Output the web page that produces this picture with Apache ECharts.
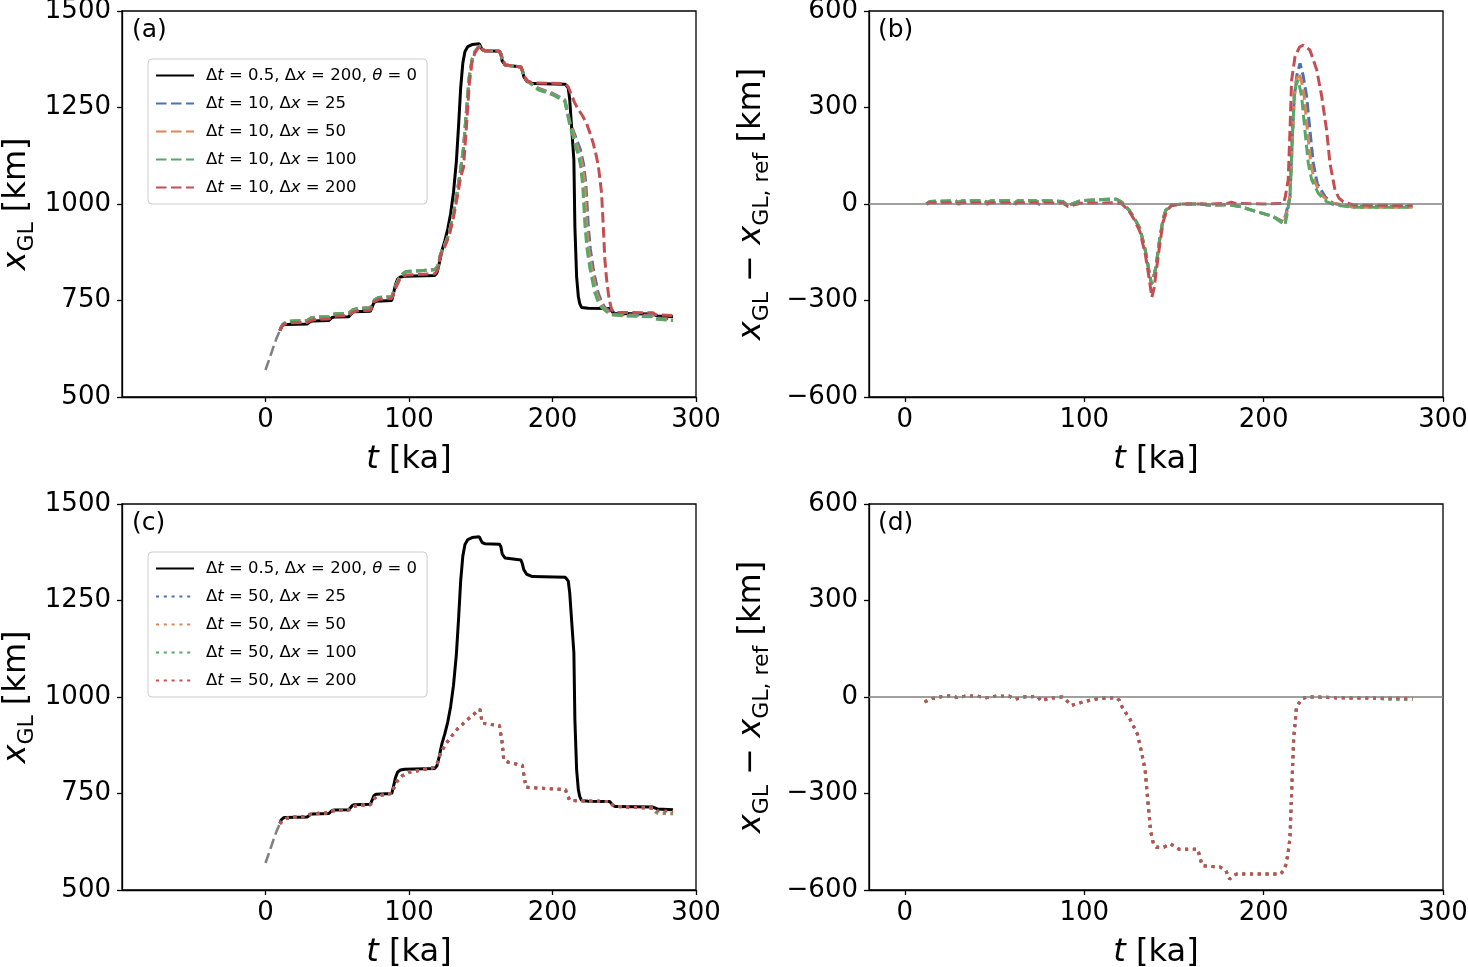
<!DOCTYPE html>
<html>
<head>
<meta charset="utf-8">
<script src="https://cdn.jsdelivr.net/npm/echarts@6.0.0/dist/echarts.min.js"></script>
<style>
html, body { margin: 0; padding: 0; background: #fff; }
#main { width: 1468px; height: 967px; }
</style>
</head>
<body>
<div id="main"></div>
<script>
// ---- data ----
// spin-up (grey dashed), panels (a) and (c)
var tSpin = [0, 3, 6, 8, 10];
var xSpin = [570, 602, 635, 655, 672];

// reference run dt=0.5, dx=200, theta=0
var tRef = [10, 11, 12.5, 14, 29, 30, 31.5, 33, 44, 45, 46.5, 48, 58, 59, 60.5, 62, 73, 74, 75.5, 77, 88, 89, 90.5, 92, 94, 97, 118, 119.5, 121, 123, 125, 127, 129, 131, 133, 134.5, 136, 137.5, 139, 141, 144, 149, 150, 151, 153, 163, 164, 165, 167, 178, 179, 180, 182, 186, 209, 211, 212, 213.3, 214.9, 215.6, 216.8, 218, 219, 220.2, 225, 240, 241, 242, 244, 270, 271, 273, 284];
var xRef = [672, 682, 687, 688, 689, 692, 696, 697, 698, 702, 706, 707, 708, 713, 719, 721, 722, 730, 744, 748, 750, 765, 790, 805, 811, 813, 815, 822, 845, 880, 905, 935, 975, 1030, 1110, 1200, 1300, 1365, 1395, 1408, 1413, 1415, 1412, 1400, 1397, 1396, 1390, 1370, 1360, 1355, 1345, 1330, 1318, 1312, 1310, 1300, 1270, 1200, 1114, 941, 812, 760, 742, 732, 730, 729, 726, 719, 716, 715, 712, 710, 708];

// dt=10 runs, panel (a)
var tDt10Early = [10, 12, 15, 29, 32, 35, 44, 47, 50, 58, 61, 64, 73, 76, 79, 88, 91, 94, 98, 110, 118, 120];
var xDt10Early = [672, 688, 696, 698, 705, 707, 708, 714, 716, 717, 726, 729, 731, 752, 758, 760, 790, 815, 825, 828, 830, 838];
var xDt10EarlyRed = [672, 686, 692, 693, 699, 701, 702, 708, 710, 711, 720, 723, 725, 748, 753, 755, 785, 808, 816, 818, 819, 830];
var tDt10Rise = [122, 125, 128, 131, 134, 136, 138, 140, 142, 144, 146, 148, 150, 151, 153, 163, 165, 167, 178, 180, 182];
var xDt10Rise = [870, 895, 925, 975, 1040, 1090, 1145, 1240, 1330, 1375, 1395, 1405, 1410, 1400, 1397, 1396, 1378, 1360, 1355, 1335, 1320];
var xDt10RiseRed = [868, 890, 918, 965, 1025, 1070, 1095, 1200, 1310, 1370, 1392, 1403, 1410, 1400, 1397, 1396, 1378, 1360, 1355, 1335, 1320];
var tA25Tail = [190, 200, 208.6, 212, 214, 216, 218, 219.5, 221.8, 223.3, 224.9, 226.3, 228.3, 229.5, 231.8, 234.3, 236.5, 240, 243, 250, 270, 272, 284];
var x10dx25Tail = [1300, 1287, 1270, 1215, 1195, 1175, 1155, 1140, 1100, 1050, 945, 885, 835, 812, 770, 745, 732, 722, 715, 713, 712, 705, 702];
var tA50Tail = [190, 200, 208.6, 212, 214, 216, 218, 219.5, 221, 222.5, 223.8, 225.2, 227.2, 228.4, 230.7, 233.2, 235.4, 239, 242, 250, 270, 272, 284];
var x10dx50Tail = [1298, 1285, 1268, 1210, 1190, 1165, 1140, 1125, 1095, 1050, 945, 885, 835, 812, 770, 745, 732, 720, 713, 711, 709, 702, 699];
var tA100Tail = [190, 200, 208.6, 212, 214, 216, 218, 219.5, 221, 222.6, 224, 226, 227.2, 229.5, 232, 234.2, 238, 241, 250, 270, 272, 284];
var x10dx100Tail = [1296, 1283, 1266, 1205, 1180, 1150, 1128, 1100, 1050, 945, 885, 835, 812, 770, 745, 732, 720, 713, 710, 708, 702, 698];
var tA200Tail = [186, 209, 211, 213, 215.6, 218, 221, 223.7, 226, 228.4, 230.5, 232, 233.2, 234.2, 235.4, 236.5, 237.7, 238.9, 240, 241.2, 243, 255, 270, 272, 284];
var x10dx200Tail = [1314, 1312, 1303, 1285, 1261, 1245, 1228, 1209, 1185, 1157, 1125, 1097, 1060, 1028, 941, 855, 805, 769, 745, 727, 719, 719, 718, 713, 711];

// panel (b): x_GL - x_GL,ref for dt=10
var tDiffEarly = [12, 14, 28, 30, 32, 44, 46, 48, 58, 61, 63, 73, 75, 77, 88, 91, 94, 98, 110, 118, 121];
var dDiffEarly = [0, 8, 10, 5, 10, 10, 5, 10, 10, 3, 10, 10, 4, 10, 8, -6, 2, 10, 14, 15, 5];
var dDiffEarlyRed = [0, 4, 4, 0, 4, 4, 0, 4, 4, -2, 4, 4, -1, 4, 3, -8, -3, 2, 3, 4, 0];
var tDiffMid = [125, 128, 131, 134, 136, 137.5, 139, 140, 142, 144, 145.5, 148.5, 155, 165, 170, 180, 187, 195, 205];
var dDiffMid = [-19, -45, -75, -143, -205, -250, -220, -195, -112, -45, -19, -3, 0, 0, -4, -2, -8, -22, -38];
var tDiffMidRed = [125, 128, 131, 134, 136, 137.7, 139, 140, 142, 144, 146, 148.6, 155, 170, 180, 182, 184, 200, 211];
var dDiffMidRed = [-22, -50, -85, -155, -225, -290, -260, -215, -130, -55, -20, -5, 0, 0, 2, 6, 2, 0, 2];
var tB25 = [211, 212.5, 214.7, 216.2, 217.1, 218.5, 220.3, 222, 224, 225.8, 227.7, 229.9, 234.2, 238.8, 250, 283];
var dB25 = [-55, -30, 23, 230, 334, 400, 437, 400, 334, 230, 126, 64, 23, 2, -8, -8];
var tB50 = [211.4, 212.7, 214.7, 216.2, 217.1, 218.3, 219.7, 221, 222.6, 224.4, 226.3, 228.4, 232.3, 237, 250, 283];
var dB50 = [-60, -32, 23, 230, 334, 385, 406, 385, 334, 230, 126, 70, 28, 4, -10, -10];
var tB100 = [211.9, 213, 214.7, 216.2, 217.1, 218, 219.3, 221.2, 223, 224.9, 226.8, 230.5, 235.1, 240, 250, 283];
var dB100 = [-65, -35, 23, 230, 334, 370, 385, 334, 230, 126, 75, 33, 7, -4, -10, -10];
var tB200 = [212, 213.7, 214.7, 215.6, 217.5, 220, 222.1, 225.8, 229.6, 232.4, 235.1, 237, 239.8, 242, 244.4, 250, 283];
var dB200 = [20, 75, 230, 385, 458, 488, 494, 479, 417, 334, 230, 126, 43, 18, 7, -3, -5];

// dt=50 runs, panel (c)
var tDt50 = [10, 12, 15, 20, 28, 31, 35, 43, 46, 50, 58, 61, 65, 73, 76, 80, 88, 91, 95, 100, 110, 118, 120, 122, 126, 130, 134, 138, 142, 146, 149.5, 151, 155, 163, 165, 166, 170, 179, 180, 181.5, 190, 200, 209, 210.5, 212, 220, 230, 240, 241.5, 243, 255, 270];
var xDt50 = [672, 680, 686, 689, 691, 696, 698, 700, 704, 706, 707, 716, 719, 721, 738, 745, 750, 778, 795, 805, 812, 818, 830, 855, 880, 900, 918, 932, 945, 958, 968, 932, 930, 926, 880, 836, 830, 823, 800, 766, 764, 762, 760, 745, 732, 731, 730, 729, 722, 717, 714, 712];
var tDt50Tail = [271.5, 273, 284];
var x50dx25Tail = [703, 700, 698];
var x50dx50Tail = [702, 699, 697];
var x50dx100Tail = [703, 700, 699];
var x50dx200Tail = [707, 705, 704];

// panel (d): x_GL - x_GL,ref for dt=50
var tDiff50 = [11, 15, 19.5, 23, 27, 29, 33, 39.5, 43, 45.7, 50, 58, 61.5, 66, 74, 76, 80, 87.7, 90, 93, 100, 108.7, 117.7, 119.5, 121.3, 125.5, 129.7, 132.2, 134, 135.6, 137, 138.5, 140.2, 144.4, 148.2, 152.8, 163.3, 164.5, 165.8, 175.9, 179, 181, 183, 185.3, 209.4, 211, 212.6, 214, 214.7, 215.7, 216.8, 218.3, 221, 224, 230, 240, 250, 260];
var dDiff50 = [-15, -5, 0, 3, 3, -2, 2, 3, 0, -2, 2, 3, -7, 0, 2, -12, -4, 0, -10, -26, -14, -4, -2, -10, -33, -69, -116, -178, -230, -333, -416, -455, -467, -467, -457, -473, -473, -500, -524, -529, -540, -566, -555, -550, -550, -540, -519, -470, -436, -281, -126, -33, -7, 0, 0, -2, -3, -3];
var tDiff50Tail = [270, 283];
var d50dx25Tail = [-6, -8];
var d50dx50Tail = [-6, -8];
var d50dx100Tail = [-6, -7];
var d50dx200Tail = [-3, -4];

// ---- names, colours ----
var REF = 'Δt = 0.5, Δx = 200, θ = 0';
var names10 = ['Δt = 10, Δx = 25', 'Δt = 10, Δx = 50', 'Δt = 10, Δx = 100', 'Δt = 10, Δx = 200'];
var names50 = ['Δt = 50, Δx = 25', 'Δt = 50, Δx = 50', 'Δt = 50, Δx = 100', 'Δt = 50, Δx = 200'];
var colors = ['#4C72B0', '#DD8452', '#55A868', '#C44E52'];

var FONT = 'DejaVu Sans';
var LW = 3;
var DASH = [10.5, 4.5];
var DOT = [3, 4.8];

function zip(t, x) {
  var out = [];
  for (var i = 0; i < t.length; i++) out.push([t[i], x[i]]);
  return out;
}

function line(name, data, g, color, type, width, z) {
  return {
    name: name,
    type: 'line',
    xAxisIndex: g,
    yAxisIndex: g,
    data: data,
    symbol: 'none',
    showSymbol: false,
    silent: true,
    z: z || 2,
    lineStyle: { color: color, width: width || LW, type: type || 'solid', cap: 'butt' },
    itemStyle: { color: color }
  };
}

var seriesData = [];
// (a)
seriesData.push(line('spin', zip(tSpin, xSpin), 0, '#808080', DASH, 2.6));
seriesData.push(line(REF, zip(tRef, xRef), 0, '#000000', 'solid', LW));
var early10 = zip(tDt10Early, xDt10Early);
var rise10 = zip(tDt10Rise, xDt10Rise);
seriesData.push(line(names10[0], early10.concat(rise10, zip(tA25Tail, x10dx25Tail)), 0, colors[0], DASH));
seriesData.push(line(names10[1], early10.concat(rise10, zip(tA50Tail, x10dx50Tail)), 0, colors[1], DASH));
seriesData.push(line(names10[2], early10.concat(rise10, zip(tA100Tail, x10dx100Tail)), 0, colors[2], DASH));
seriesData.push(line(names10[3], zip(tDt10Early, xDt10EarlyRed).concat(zip(tDt10Rise, xDt10RiseRed), zip(tA200Tail, x10dx200Tail)), 0, colors[3], DASH));

// (b)
var zeroLine = function (g) {
  return {
    type: 'line', xAxisIndex: g, yAxisIndex: g, data: [], silent: true, z: 1,
    markLine: {
      silent: true, symbol: 'none', label: { show: false },
      lineStyle: { color: '#808080', width: 1.5, type: 'solid' },
      data: [{ yAxis: 0 }]
    }
  };
};
seriesData.push(zeroLine(1));
var earlyB = zip(tDiffEarly, dDiffEarly).concat(zip(tDiffMid, dDiffMid));
seriesData.push(line(names10[0], earlyB.concat(zip(tB25, dB25)), 1, colors[0], DASH));
seriesData.push(line(names10[1], earlyB.concat(zip(tB50, dB50)), 1, colors[1], DASH));
seriesData.push(line(names10[2], earlyB.concat(zip(tB100, dB100)), 1, colors[2], DASH));
seriesData.push(line(names10[3], zip(tDiffEarly, dDiffEarlyRed).concat(zip(tDiffMidRed, dDiffMidRed), zip(tB200, dB200)), 1, colors[3], DASH));

// (c)
seriesData.push(line('spin', zip(tSpin, xSpin), 2, '#808080', DASH, 2.6));
seriesData.push(line(REF, zip(tRef, xRef), 2, '#000000', 'solid', LW));
var tails50 = [x50dx25Tail, x50dx50Tail, x50dx100Tail, x50dx200Tail];
for (var k2 = 0; k2 < 4; k2++) {
  seriesData.push(line(names50[k2], zip(tDt50, xDt50).concat(zip(tDt50Tail, tails50[k2])), 2, colors[k2], DOT));
}

// (d)
seriesData.push(zeroLine(3));
var tailsD = [d50dx25Tail, d50dx50Tail, d50dx100Tail, d50dx200Tail];
for (var k3 = 0; k3 < 4; k3++) {
  seriesData.push(line(names50[k3], zip(tDiff50, dDiff50).concat(zip(tDiff50Tail, tailsD[k3])), 3, colors[k3], DOT));
}

// ---- axes ----
var grids = [
  { left: 122, top: 11, width: 574, height: 386 },
  { left: 869, top: 11, width: 574, height: 386 },
  { left: 122, top: 504, width: 574, height: 386 },
  { left: 869, top: 504, width: 574, height: 386 }
];
grids.forEach(function (g) {
  g.show = true; g.borderColor = '#000'; g.borderWidth = 1.3; g.backgroundColor = '#fff';
  g.containLabel = false; g.outerBoundsMode = 'none';
});

var minus = function (v) { return v < 0 ? '\u2212' + Math.abs(v) : String(v); };
var nameRich = {
  i: { fontStyle: 'italic', fontSize: 32, fontFamily: FONT, lineHeight: 42 },
  s: { fontSize: 22, fontFamily: FONT, lineHeight: 22, verticalAlign: 'bottom' }
};

function xAx(g, min) {
  return {
    type: 'value', gridIndex: g, min: min, max: 300,
    name: '{i|t} [ka]', nameLocation: 'middle', nameGap: 42,
    nameTextStyle: { fontSize: 32, fontFamily: FONT, color: '#000', lineHeight: 42, rich: nameRich },
    splitLine: { show: false },
    axisLine: { show: true, onZero: false, lineStyle: { color: '#000', width: 1.3 } },
    axisTick: { show: true, length: 5, lineStyle: { color: '#000', width: 1.3 }, customValues: [0, 100, 200, 300] },
    axisLabel: { fontSize: 26, fontFamily: FONT, color: '#000', margin: 10, customValues: [0, 100, 200, 300], formatter: minus }
  };
}
function yAx(g, min, max, interval, name, gap) {
  return {
    type: 'value', gridIndex: g, min: min, max: max, interval: interval,
    name: name, nameLocation: 'middle', nameGap: gap, nameRotate: 90,
    nameTextStyle: { fontSize: 32, fontFamily: FONT, color: '#000', lineHeight: 42, rich: nameRich },
    splitLine: { show: false },
    axisLine: { show: true, onZero: false, lineStyle: { color: '#000', width: 1.3 } },
    axisTick: { show: true, length: 5, lineStyle: { color: '#000', width: 1.3 } },
    axisLabel: { fontSize: 26, fontFamily: FONT, color: '#000', margin: 11, formatter: minus }
  };
}
var nameA = '{i|x}{s|GL} [km]';
var nameB = '{i|x}{s|GL} \u2212 {i|x}{s|GL, ref} [km]';

var legendRich = { i: { fontStyle: 'italic', fontSize: 16.5, fontFamily: FONT } };
function legendAt(top, data) {
  return {
    orient: 'vertical', left: 148, top: top, align: 'left',
    data: data,
    itemWidth: 38, itemHeight: 14, itemGap: 11,
    padding: [8, 10, 8, 7],
    backgroundColor: 'rgba(255,255,255,0.8)',
    borderColor: '#cccccc', borderWidth: 1, borderRadius: 4,
    selectedMode: false,
    itemStyle: { opacity: 0 },
    textStyle: { fontSize: 16.5, fontFamily: FONT, color: '#000', padding: [0, 0, 0, 7], rich: legendRich },
    formatter: function (n) {
      return n.replace('Δt', 'Δ{i|t}').replace('Δx', 'Δ{i|x}').replace('θ', '{i|θ}');
    }
  };
}

function panelLabel(text, left, top) {
  return { text: text, left: left, top: top, padding: 0,
    textStyle: { fontSize: 25, fontWeight: 'normal', fontFamily: FONT, color: '#000' } };
}

var myChart = echarts.init(document.getElementById('main'), null, { renderer: 'canvas' });
var option = {
  animation: false,
  backgroundColor: '#fff',
  title: [
    panelLabel('(a)', 132, 18),
    panelLabel('(b)', 878, 18),
    panelLabel('(c)', 132, 511),
    panelLabel('(d)', 878, 511)
  ],
  grid: grids,
  xAxis: [xAx(0, -100), xAx(1, -20), xAx(2, -100), xAx(3, -20)],
  yAxis: [
    yAx(0, 500, 1500, 250, nameA, 84),
    yAx(1, -600, 600, 300, nameB, 96),
    yAx(2, 500, 1500, 250, nameA, 84),
    yAx(3, -600, 600, 300, nameB, 96)
  ],
  legend: [legendAt(59, [REF].concat(names10)), legendAt(552, [REF].concat(names50))],
  series: seriesData
};
myChart.setOption(option);
</script>
</body>
</html>
